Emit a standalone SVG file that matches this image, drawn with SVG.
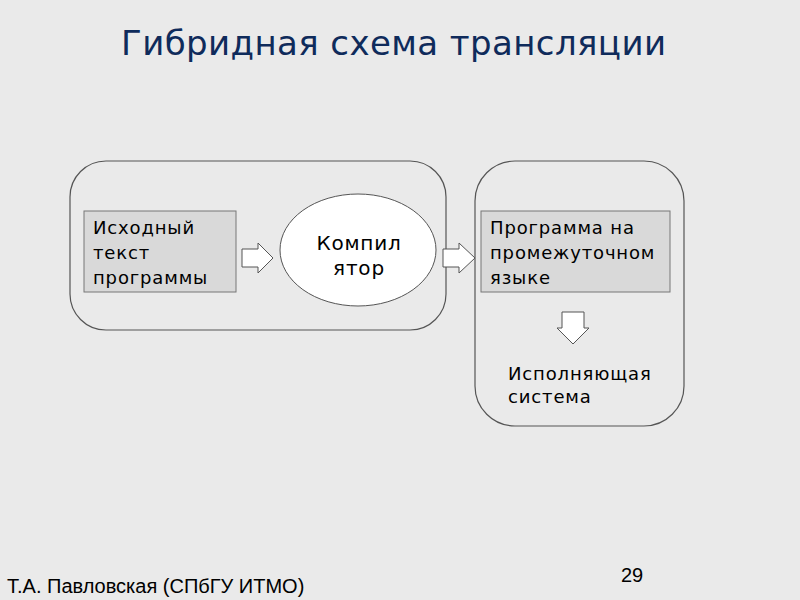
<svg xmlns="http://www.w3.org/2000/svg" width="800" height="600" viewBox="0 0 800 600">
<style>
.t{font-family:"DejaVu Sans",Verdana,sans-serif;font-size:18px;letter-spacing:0.85px;fill:#000}
.c{font-family:"DejaVu Sans",Verdana,sans-serif;font-size:20px;letter-spacing:0.8px;fill:#000}
.frame{fill:none;stroke:#555;stroke-width:1.2}
.box{fill:#d9d9d9;stroke:#777;stroke-width:1}
.arr{fill:#fff;stroke:#555;stroke-width:1}
.ft{font-family:"Liberation Sans",Arial,sans-serif;font-size:20px;fill:#000}
</style>
<rect width="800" height="600" fill="#eaeaea"/>
<text x="121" y="55" font-family="'DejaVu Sans',Verdana,sans-serif" font-size="34" letter-spacing="0.4" fill="#0f2b5b">Гибридная схема трансляции</text>
<g id="frame-left"><rect class="frame" x="70" y="161" width="376" height="169" rx="36"/></g>
<g id="frame-right"><rect class="frame" x="475" y="161" width="209" height="265" rx="40"/></g>
<g id="source">
<rect class="box" x="84" y="211" width="152" height="81"/>
<text class="t" x="93" y="234">Исходный</text>
<text class="t" x="93" y="259">текст</text>
<text class="t" x="93" y="284">программы</text>
</g>
<g id="compiler">
<ellipse cx="358" cy="250" rx="78" ry="56" fill="#fff" stroke="#555" stroke-width="1"/>
<text class="c" x="359" y="250" text-anchor="middle">Компил</text>
<text class="c" x="359" y="275" text-anchor="middle">ятор</text>
</g>
<g id="intermediate">
<rect class="box" x="481" y="211" width="189" height="81"/>
<text class="t" x="490" y="234">Программа на</text>
<text class="t" x="490" y="259">промежуточном</text>
<text class="t" x="490" y="284">языке</text>
</g>
<g id="runtime">
<text class="t" x="508" y="380">Исполняющая</text>
<text class="t" x="508" y="403">система</text>
</g>
<g id="connectors">
<path class="arr" d="M242,249 H258 V243 L273,258 L258,273 V267 H242 Z"/>
<path class="arr" d="M443,249 H459 V243 L475,258 L459,273 V267 H443 Z"/>
<path class="arr" d="M562,312 H584 V328 H589 L573,344 L557,328 H562 Z"/>
</g>
<text class="ft" x="7" y="593">Т.А. Павловская (СПбГУ ИТМО)</text>
<text class="ft" x="621" y="582">29</text>
</svg>
